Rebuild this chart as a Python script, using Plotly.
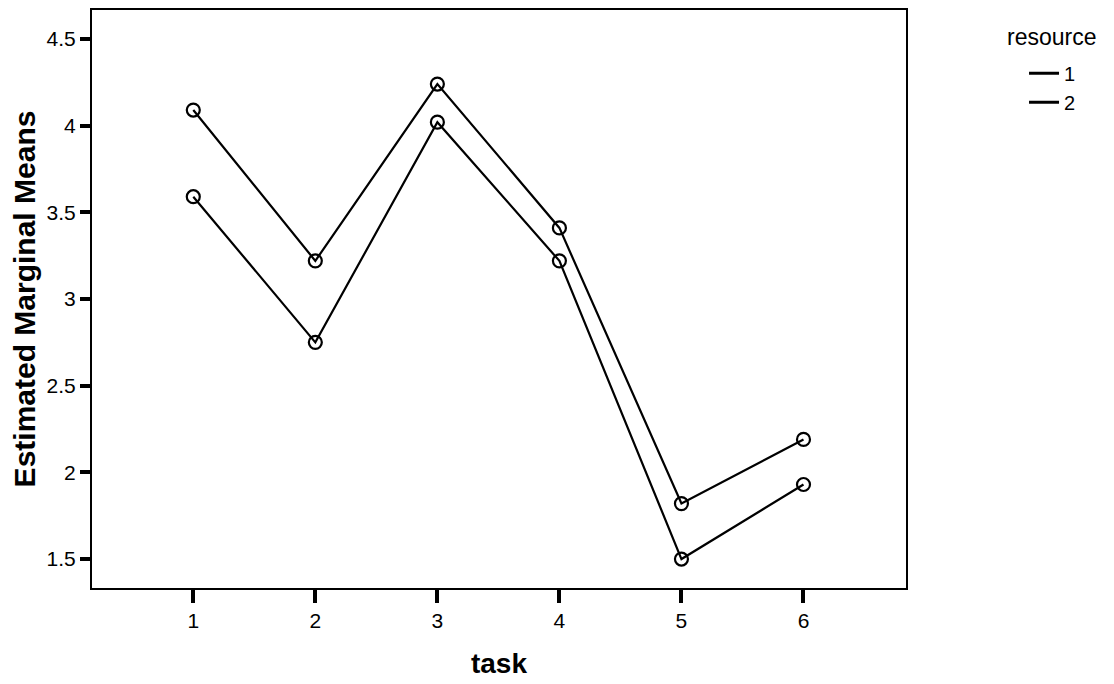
import plotly.graph_objects as go

tasks = [1, 2, 3, 4, 5, 6]
resource_1 = [4.09, 3.22, 4.24, 3.41, 1.82, 2.19]
resource_2 = [3.59, 2.75, 4.02, 3.22, 1.50, 1.93]
y_ticks = [1.5, 2, 2.5, 3, 3.5, 4, 4.5]
y_tick_labels = ["1.5", "2", "2.5", "3", "3.5", "4", "4.5"]
legend_title = "resource"

FONT = "Liberation Sans, Arial, sans-serif"

fig = go.Figure()
for name, vals in [("1", resource_1), ("2", resource_2)]:
    fig.add_trace(go.Scatter(
        x=tasks, y=vals, mode="lines+markers", name=name, showlegend=False,
        line=dict(color="black", width=2.2),
        marker=dict(symbol="circle-open", size=13, color="black", line=dict(width=2.2)),
    ))
    fig.add_trace(go.Scatter(
        x=[None], y=[None], mode="lines", name=name, showlegend=True,
        line=dict(color="black", width=3),
    ))

fig.add_annotation(
    text=legend_title, xref="paper", yref="paper", x=1.1788, y=0.9534,
    xanchor="center", yanchor="middle", showarrow=False,
    font=dict(size=23, family=FONT, color="black"),
)

fig.update_layout(
    width=1106, height=676,
    margin=dict(l=84, r=208, t=0, b=96),
    paper_bgcolor="white", plot_bgcolor="white",
    font=dict(family=FONT, color="black", size=20),
    xaxis=dict(
        range=[0.17, 6.84], tickvals=tasks, ticktext=[str(t) for t in tasks],
        showgrid=False, zeroline=False, showline=True, linecolor="black", linewidth=2,
        mirror=True, ticks="outside", ticklen=13, tickwidth=3.5, tickcolor="black",
        tickfont=dict(size=21, family=FONT),
        title=dict(text="<b>task</b>", font=dict(size=28, family=FONT), standoff=22),
    ),
    yaxis=dict(
        range=[1.333, 4.667], tickvals=y_ticks, ticktext=y_tick_labels,
        showgrid=False, zeroline=False, showline=True, linecolor="black", linewidth=2,
        mirror=True, ticks="outside", ticklen=10, tickwidth=3.5, tickcolor="black",
        tickfont=dict(size=21, family=FONT),
        title=dict(text="<b>Estimated Marginal Means</b>", font=dict(size=30, family=FONT), standoff=10),
    ),
    legend=dict(
        x=1.145, y=0.9245, xanchor="left", yanchor="top",
        font=dict(size=20, family=FONT), bgcolor="rgba(0,0,0,0)",
        tracegroupgap=0, itemwidth=30,
    ),
)

fig.write_html("out.html")
